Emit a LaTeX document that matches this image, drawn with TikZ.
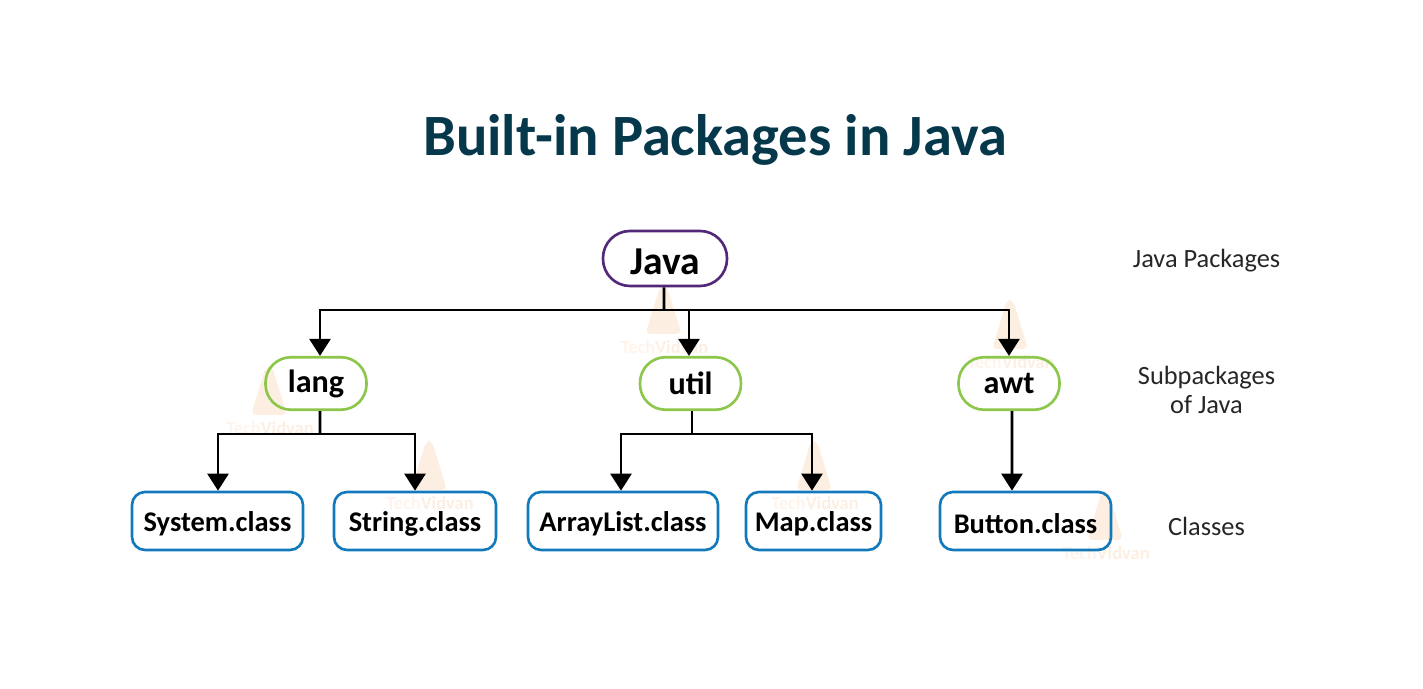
\documentclass[tikz,border=0pt]{standalone}
\usepackage{fontspec}
\setmainfont{Carlito}
\usepackage{tikz}
\usetikzlibrary{arrows.meta, positioning}
\definecolor{TitleTeal}{RGB}{6, 56, 76}
\definecolor{RootPurple}{RGB}{84, 40, 120}
\definecolor{SubGreen}{RGB}{140, 198, 74}
\definecolor{ClassBlue}{RGB}{18, 122, 186}
\definecolor{MarkOrange}{RGB}{253, 238, 226}
\definecolor{MarkPale}{RGB}{254, 244, 236}
\newcommand{\techmark}[2]{%
	\fill[MarkOrange, rounded corners=0.1cm] (#1-0.36,#2-0.20) -- (#1-0.06,#2+0.78) -- (#1+0.06,#2+0.78) -- (#1+0.36,#2-0.20) -- cycle;
	\node[font=\fontsize{10.5}{12}\selectfont\bfseries, text=MarkOrange, inner sep=0pt] at (#1+0.02,#2-0.46) {\textcolor{MarkPale}{Tech}Vidvan};}
\begin{document}
\begin{tikzpicture}[
		root/.style={draw=RootPurple, line width=1.5pt, rounded corners=0.54cm, minimum width=2.48cm, minimum height=1.1cm, text height=0.64cm, font=\fontsize{22.5}{27}\selectfont\bfseries},
		sub/.style={draw=SubGreen, line width=1.5pt, rounded corners=0.51cm, minimum width=2.02cm, minimum height=1.05cm, font=\fontsize{18.3}{22}\selectfont\bfseries},
		cls/.style={draw=ClassBlue, line width=1.5pt, rounded corners=0.26cm, minimum height=1.16cm, text height=0.5cm, font=\fontsize{16.2}{20}\selectfont\bfseries},
		side/.style={font=\fontsize{15}{17}\selectfont, text=black!85, align=center},
		arr/.style={-{Triangle[length=0.34cm, width=0.42cm]}, line width=1.5pt},
		bus/.style={line width=1.5pt}]
	\useasboundingbox (0,0) rectangle (28.46,13.78);
	% Watermarks
	\techmark{13.27}{7.30}
	\techmark{20.20}{7.00}
	\techmark{5.38}{5.68}
	\techmark{8.58}{4.18}
	\techmark{16.28}{4.18}
	\techmark{22.10}{3.18}

	\node[font=\fontsize{33.3}{40}\selectfont\bfseries, text=TitleTeal] (title) at (14.30,10.98) {Built-in Packages in Java};

	% Root
	\node[root] (java) at (13.30,8.61) {Java};
	\node[side] (lbljava) at (24.13,8.56) {Java Packages};

	% Subpackages
	\node[sub] (lang) at (6.32,6.11) {lang};
	\node[sub] (util) at (13.81,6.11) {util};
	\node[sub] (awt) at (20.18,6.11) {awt};
	\node[side] (lblsub) at (24.13,5.98) {Subpackages\\of Java};

	% Classes
	\node[cls, minimum width=3.42cm] (system) at (4.35,3.36) {System.class};
	\node[cls, minimum width=3.24cm] (string) at (8.30,3.36) {String.class};
	\node[cls, minimum width=3.80cm] (arraylist) at (12.46,3.36) {ArrayList.class};
	\node[cls, minimum width=2.70cm] (map) at (16.27,3.36) {Map.class};
	\node[cls, minimum width=3.42cm] (button) at (20.51,3.36) {Button.class};
	\node[side] (lblcls) at (24.13,3.25) {Classes};

	% Java to subpackages
	\coordinate (javabus) at (13.28,7.58);
	\draw[bus] ([xshift=-0.02cm]java.south) -- (javabus);
	\draw[arr] (javabus) -| ([xshift=0.08cm]lang.north);
	\draw[arr] (javabus) -| ([xshift=-0.03cm]util.north);
	\draw[arr] (javabus) -| (awt.north);

	% lang
	\coordinate (langbus) at (6.40,5.10);
	\draw[bus] ([xshift=0.08cm]lang.south) -- (langbus);
	\draw[arr] (langbus) -| ([xshift=0.01cm]system.north);
	\draw[arr] (langbus) -| (string.north);

	% util
	\coordinate (utilbus) at (13.84,5.10);
	\draw[bus] ([xshift=0.03cm]util.south) -- (utilbus);
	\draw[arr] (utilbus) -| ([xshift=-0.04cm]arraylist.north);
	\draw[arr] (utilbus) -| ([xshift=-0.03cm]map.north);

	% awt
	\draw[arr] ([xshift=0.06cm]awt.south) -- ([xshift=-0.27cm]button.north);
\end{tikzpicture}
\end{document}
